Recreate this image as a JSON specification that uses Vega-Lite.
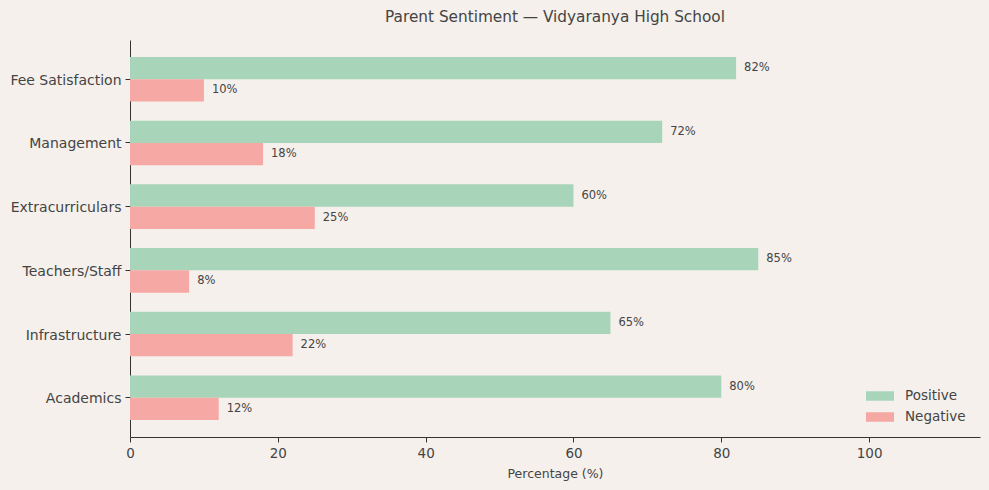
{
  "$schema": "https://vega.github.io/schema/vega-lite/v6.json",
  "autosize": {"type": "none"},
  "width": 850,
  "height": 397,
  "padding": {"left": 130, "top": 40, "right": 9, "bottom": 53},
  "background": "#f5f0eb",
  "title": {"text": "Parent Sentiment — Vidyaranya High School", "font": "DejaVu Sans", "fontSize": 15.3, "fontWeight": "normal", "color": "#444444", "anchor": "middle", "offset": 15},
  "config": {"view": {"stroke": null}, "font": "DejaVu Sans"},
  "data": {"values": [
    {"aspect": "Fee Satisfaction", "sentiment": "Positive", "value": 82, "label": "82%"},
    {"aspect": "Fee Satisfaction", "sentiment": "Negative", "value": 10, "label": "10%"},
    {"aspect": "Management", "sentiment": "Positive", "value": 72, "label": "72%"},
    {"aspect": "Management", "sentiment": "Negative", "value": 18, "label": "18%"},
    {"aspect": "Extracurriculars", "sentiment": "Positive", "value": 60, "label": "60%"},
    {"aspect": "Extracurriculars", "sentiment": "Negative", "value": 25, "label": "25%"},
    {"aspect": "Teachers/Staff", "sentiment": "Positive", "value": 85, "label": "85%"},
    {"aspect": "Teachers/Staff", "sentiment": "Negative", "value": 8, "label": "8%"},
    {"aspect": "Infrastructure", "sentiment": "Positive", "value": 65, "label": "65%"},
    {"aspect": "Infrastructure", "sentiment": "Negative", "value": 22, "label": "22%"},
    {"aspect": "Academics", "sentiment": "Positive", "value": 80, "label": "80%"},
    {"aspect": "Academics", "sentiment": "Negative", "value": 12, "label": "12%"}
  ]},
  "encoding": {
    "y": {"field": "aspect", "type": "nominal", "sort": null,
      "scale": {"paddingInner": 0.3, "paddingOuter": 0.266},
      "axis": {"title": null, "labelFontSize": 14, "labelColor": "#444444", "domainColor": "#333333", "tickColor": "#333333", "tickSize": 5, "labelPadding": 4, "labelOffset": 1.5, "grid": false}},
    "yOffset": {"field": "sentiment", "type": "nominal", "sort": ["Positive", "Negative"], "scale": {"paddingInner": 0, "paddingOuter": 0}},
    "x": {"field": "value", "type": "quantitative", "scale": {"domain": [0, 115], "nice": false},
      "axis": {"title": "Percentage (%)", "titleFontSize": 12.5, "titleFontWeight": "normal", "titleColor": "#444444", "titlePadding": 8, "labelFontSize": 13.5, "labelColor": "#444444", "labelFlush": false, "domainColor": "#333333", "tickColor": "#333333", "tickSize": 5, "grid": false, "values": [0, 20, 40, 60, 80, 100], "labelPadding": 4}}
  },
  "layer": [
    {"mark": {"type": "bar"},
     "encoding": {"color": {"field": "sentiment", "type": "nominal", "sort": ["Positive", "Negative"],
        "scale": {"domain": ["Positive", "Negative"], "range": ["#a8d5b9", "#f5a8a4"]},
        "legend": {"title": null, "orient": "none", "legendX": 743, "legendY": 349, "padding": 0,
          "symbolType": "M-2,-0.68H2V0.68H-2Z", "symbolSize": 196, "symbolStrokeWidth": 0, "symbolOpacity": 1,
          "labelFontSize": 13.5, "labelColor": "#444444", "labelOffset": 18, "rowPadding": 7}}}},
    {"mark": {"type": "text", "align": "left", "baseline": "middle", "dx": 8, "fontSize": 11.5, "color": "#444444"},
     "encoding": {"text": {"field": "label", "type": "nominal"}}}
  ]
}
